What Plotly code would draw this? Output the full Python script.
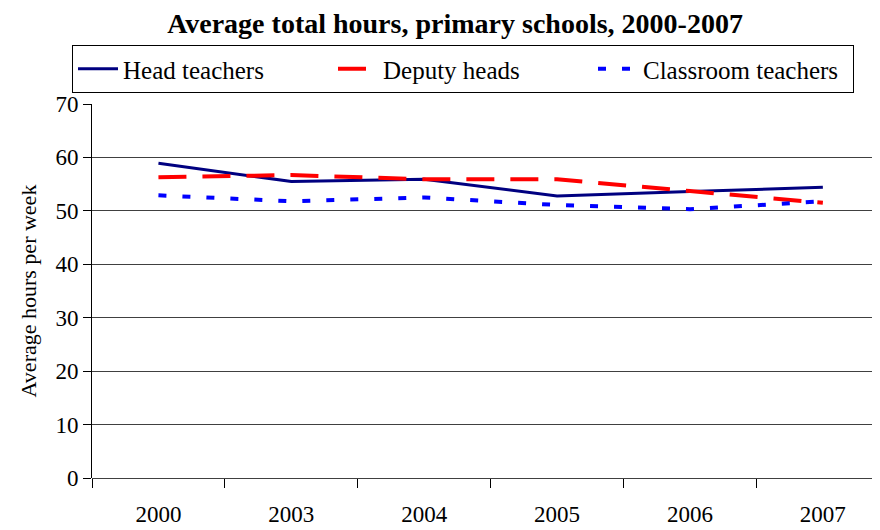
import plotly.graph_objects as go

years = ["2000", "2003", "2004", "2005", "2006", "2007"]
head_teachers = [58.9, 55.5, 55.9, 52.8, 53.6, 54.4]
deputy_heads = [56.3, 56.7, 55.9, 55.9, 53.7, 51.5]
classroom_teachers = [52.9, 51.8, 52.5, 51.1, 50.3, 51.8]
y_ticks = [0, 10, 20, 30, 40, 50, 60, 70]

FONT = "Liberation Serif, Times New Roman, serif"
W, H = 872, 522  # page body has an 8px margin

fig = go.Figure()
fig.add_trace(go.Scatter(x=years, y=head_teachers, mode="lines", name="Head teachers",
                         line=dict(color="#000080", width=3)))
fig.add_trace(go.Scatter(x=years, y=deputy_heads, mode="lines", name="Deputy heads",
                         line=dict(color="#FF0000", width=4, dash="28px,16px")))
fig.add_trace(go.Scatter(x=years, y=classroom_teachers, mode="lines", name="Classroom teachers",
                         line=dict(color="#0000FF", width=4, dash="8px,16px")))

fig.update_layout(
    width=W, height=H,
    margin=dict(l=84, r=0, t=96, b=52, autoexpand=False),
    paper_bgcolor="white", plot_bgcolor="white",
    font=dict(family=FONT, size=23, color="black"),
    title=dict(text="<b>Average total hours, primary schools, 2000-2007</b>",
               x=447/W, xref="container", xanchor="center",
               y=1-15/H, yref="container", yanchor="middle",
               font=dict(family=FONT, size=28, color="black")),
    legend=dict(orientation="h", xref="container", yref="container",
                x=64/W, y=1-37/H, xanchor="left", yanchor="top",
                bordercolor="black", borderwidth=1, bgcolor="white",
                font=dict(family=FONT, size=25), entrywidth=205,
                itemwidth=40),
    showlegend=True,
)
fig.update_xaxes(type="category", range=[-0.5, 5.43], tickson="boundaries",
                 ticks="outside", ticklen=9, tickcolor="black",
                 showline=False, showgrid=False, zeroline=False, automargin=False,
                 tickfont=dict(family=FONT, size=23), ticklabelstandoff=20)
fig.update_yaxes(range=[0, 70], tickvals=y_ticks, ticks="outside", ticklen=8,
                 tickcolor="black", showline=True, linecolor="black", linewidth=1,
                 showgrid=True, gridcolor="#404040", gridwidth=1, automargin=False,
                 zeroline=True, zerolinecolor="#404040", zerolinewidth=1,
                 title=dict(text="Average hours per week", font=dict(family=FONT, size=22), standoff=12),
                 tickfont=dict(family=FONT, size=23))

fig.write_html("out.html")
